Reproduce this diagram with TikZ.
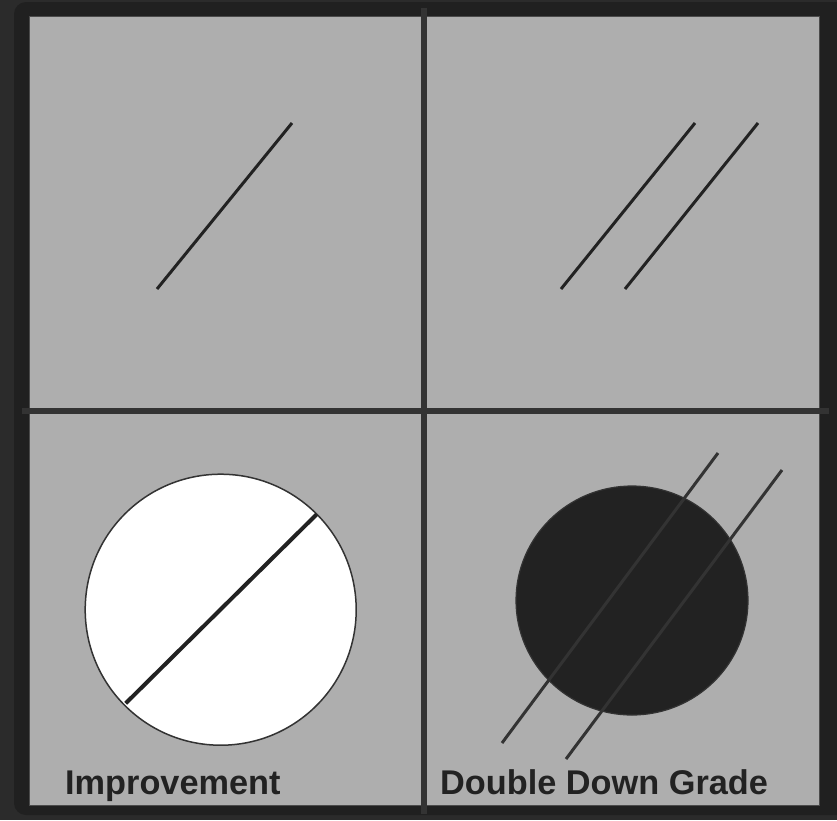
\documentclass[tikz,border=0pt]{standalone}
\usepackage{fontspec}
\setmainfont{Liberation Sans}
\usetikzlibrary{shapes.geometric}
\definecolor{outerbg}{HTML}{2B2B2B}
\definecolor{framec}{HTML}{202020}
\definecolor{panel}{HTML}{AEAEAE}
\definecolor{divc}{HTML}{333333}
\definecolor{ink}{HTML}{222222}
\begin{document}
\begin{tikzpicture}[x=1pt,y=-1pt,
  divider/.style={draw=divc,line width=5.5pt},
  slash/.style={draw=ink,line width=3pt},
  lbl/.style={font=\bfseries\fontsize{34.3}{36}\selectfont,text=ink,inner sep=0pt,anchor=base west}]
\useasboundingbox (0,0) rectangle (837,820);
\fill[outerbg] (0,0) rectangle (837,820);
\fill[framec,rounded corners=12pt] (14,2) rectangle (850,815);
\fill[panel,draw=framec!70!panel,line width=0.8pt] (29.5,16) rectangle (819,805);
% dividers
\coordinate (vt) at (424,8);
\coordinate (vb) at (424,814);
\coordinate (hl) at (22,411);
\coordinate (hr) at (829,411);
\draw[divider] (vt) -- (vb);
\draw[divider] (hl) -- (hr);
% top-left
\coordinate (a1) at (157,289);
\coordinate (a2) at (292,123);
\draw[slash] (a1) -- (a2);
% top-right
\coordinate (b1) at (561,289);
\coordinate (b2) at (695,123);
\coordinate (c1) at (625,289);
\coordinate (c2) at (758,123);
\draw[slash] (b1) -- (b2);
\draw[slash] (c1) -- (c2);
% bottom-left
\node[circle,draw=divc,fill=white,line width=1.5pt,minimum size=271pt,inner sep=0pt] (wc) at (220.7,609.7) {};
\coordinate (d1) at (125.7,703.3);
\coordinate (d2) at (316.7,514.3);
\draw[draw=ink,line width=4pt] (d1) -- (d2);
% bottom-right
\node[ellipse,draw=divc,fill=ink,line width=1.2pt,minimum width=232pt,minimum height=229pt,inner sep=0pt] (dc) at (632,600.5) {};
\coordinate (e1) at (502,743);
\coordinate (e2) at (718,453);
\coordinate (f1) at (566,759);
\coordinate (f2) at (782,470);
\draw[draw=divc,line width=3pt] (e1) -- (e2);
\draw[draw=divc,line width=3pt] (f1) -- (f2);
% labels
\node[lbl] (t1) at (65,794) {Improvement};
\node[lbl] (t2) at (440,794) {Double Down Grade};
\end{tikzpicture}
\end{document}
